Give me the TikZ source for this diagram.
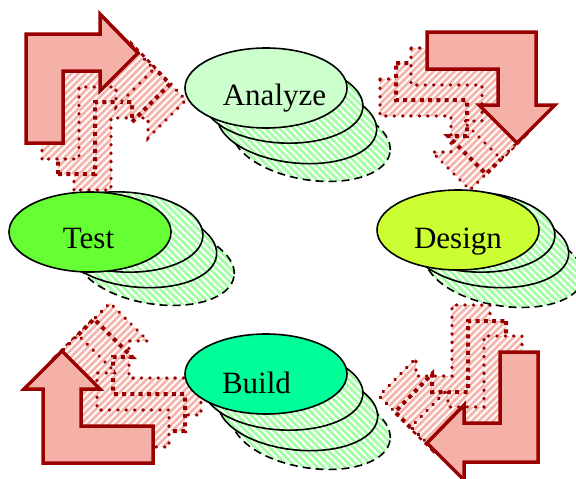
\documentclass[tikz,border=0pt]{standalone}
\usepackage{fontspec}
\setmainfont{Liberation Serif}
\usetikzlibrary{shapes.geometric}
\definecolor{arrfill}{RGB}{245,176,168}
\definecolor{arrline}{RGB}{153,0,0}
\definecolor{hatchgreen}{RGB}{160,255,160}
\definecolor{hatchpink}{RGB}{245,180,172}
\definecolor{cAnalyze}{RGB}{204,255,204}
\definecolor{cTest}{RGB}{102,255,51}
\definecolor{cDesign}{RGB}{204,255,51}
\definecolor{cBuild}{RGB}{0,255,153}
\def\TLshape{(26,143) -- (26,34) -- (100,34) -- (100,14) -- (138,53) -- (100,91) -- (100,71) -- (63,71) -- (63,143) -- cycle}
\def\TRshape{(427,32) -- (536,32) -- (536,105) -- (555,105) -- (517,143) -- (479,105) -- (498,105) -- (498,69) -- (427,69) -- cycle}
\def\BLshape{(43,463) -- (43,389) -- (24,389) -- (62,351) -- (100,389) -- (81,389) -- (81,426) -- (153,426) -- (153,463) -- cycle}
\def\BRshape{(538,352) -- (538,462) -- (464,462) -- (464,480) -- (427,443) -- (464,405) -- (464,423) -- (500,423) -- (500,352) -- cycle}
% ghost arrow: #1 shape, #2 shift, #3 outline style
\newcommand\ghostarrow[3]{%
  \begin{scope}[shift={#2}]
    \begin{scope}
      \clip #1;
      \fill[white] #1;
      \foreach \k in {-560,-553,...,640} {\draw[hatchpink, line width=2.6pt] (\k,540) -- ++(600,-600);}
    \end{scope}
    \path[#3] #1;
  \end{scope}}
% shadow ellipse: #1 cx, #2 cy, #3 rotation, #4 outline style
\newcommand\shadowellipse[4]{%
  \begin{scope}
    \clip[rotate around={#3:(#1,#2)}] (#1,#2) ellipse [x radius=80, y radius=40];
    \fill[white] (0,0) rectangle (576,479);
    \foreach \k in {-560,-553,...,640} {\draw[hatchgreen, line width=2.6pt] (\k,-60) -- ++(600,600);}
  \end{scope}
  \path[#4, rotate around={#3:(#1,#2)}] (#1,#2) ellipse [x radius=80, y radius=40];}
\begin{document}
\begin{tikzpicture}[x=1pt,y=-1pt,
  solidarrow/.style={fill=arrfill, draw=arrline, line width=3.5pt, line join=miter},
  rounddots/.style={draw=arrline, line width=3.4pt, dash pattern=on 0.4pt off 8pt, line cap=round},
  squaredots/.style={draw=arrline, line width=4pt, dash pattern=on 4pt off 4.3pt},
  mainell/.style={ellipse, draw=black, line width=1.6pt, minimum width=162pt, minimum height=80pt, inner sep=0pt},
  shadowline/.style={draw=black, line width=1.6pt},
  lastline/.style={shadowline, dash pattern=on 8pt off 5pt},
  lbl/.style={anchor=base, font=\fontsize{31}{36}\selectfont, inner sep=0pt}
]
\useasboundingbox (0,0) rectangle (576,479);

% ---- top-left arrow
\ghostarrow{\TLshape}{(48,47)}{rounddots}
\ghostarrow{\TLshape}{(32,31)}{squaredots}
\ghostarrow{\TLshape}{(16,16)}{rounddots}
\path[solidarrow] \TLshape;
% ---- top-right arrow
\ghostarrow{\TRshape}{(-47,47)}{rounddots}
\ghostarrow{\TRshape}{(-31,31)}{squaredots}
\ghostarrow{\TRshape}{(-16,16)}{rounddots}
\path[solidarrow] \TRshape;
% ---- bottom-left arrow
\ghostarrow{\BLshape}{(48,-48)}{rounddots}
\ghostarrow{\BLshape}{(32,-32)}{squaredots}
\ghostarrow{\BLshape}{(16,-16)}{rounddots}
\path[solidarrow] \BLshape;
% ---- bottom-right arrow
\ghostarrow{\BRshape}{(-48,-47)}{rounddots}
\ghostarrow{\BRshape}{(-32,-31)}{squaredots}
\ghostarrow{\BRshape}{(-16,-16)}{rounddots}
\path[solidarrow] \BRshape;

% ---- Analyze
\shadowellipse{311}{140}{-9}{lastline}
\shadowellipse{297}{123}{-6}{shadowline}
\shadowellipse{283}{103}{-3}{shadowline}
\node[mainell, fill=cAnalyze] (analyze) at (266,88) {};
\node[lbl] (analyzeText) at (274.5,105) {Analyze};

% ---- Design
\shadowellipse{504}{266}{-9}{lastline}
\shadowellipse{489}{247}{-6}{shadowline}
\shadowellipse{475}{232}{-3}{shadowline}
\node[mainell, fill=cDesign] (design) at (458,230) {};
\node[lbl] (designText) at (458,248) {Design};

% ---- Build
\shadowellipse{311}{428}{-9}{lastline}
\shadowellipse{298}{410}{-6}{shadowline}
\shadowellipse{283}{390}{-3}{shadowline}
\node[mainell, fill=cBuild] (build) at (266,374) {};
\node[lbl] (buildText) at (256.5,393) {Build};

% ---- Test
\shadowellipse{155}{264}{-9}{lastline}
\shadowellipse{137}{247}{-6}{shadowline}
\shadowellipse{123}{232}{-3}{shadowline}
\node[mainell, fill=cTest] (test) at (90,232) {};
\node[lbl] (testText) at (88.5,248) {Test};
\end{tikzpicture}
\end{document}
